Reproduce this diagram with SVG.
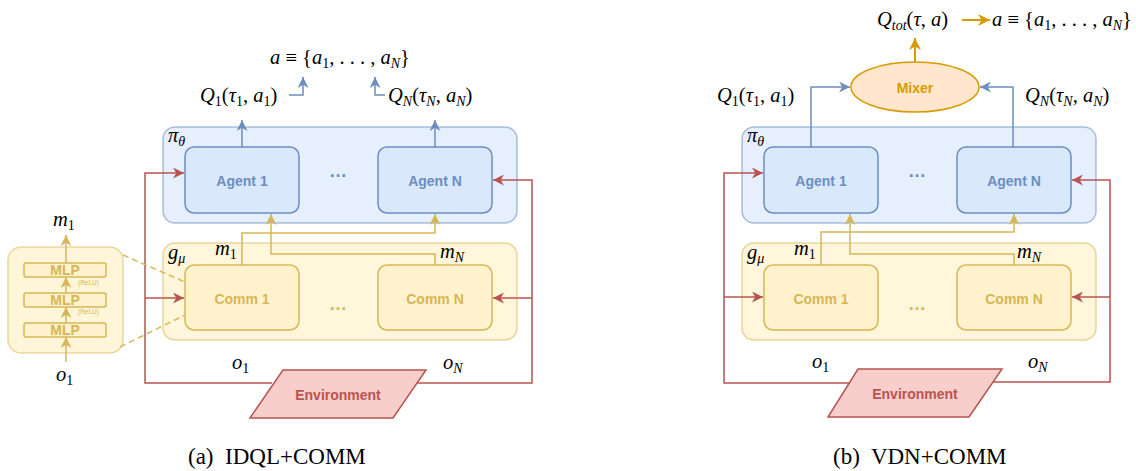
<svg xmlns="http://www.w3.org/2000/svg" width="1136" height="471" viewBox="0 0 1136 471">
  <style>
    .math { font-family: "Liberation Serif", "DejaVu Serif", serif; font-size: 20.5px; fill: #000; }
    .it { font-style: italic; }
    .sub { font-size: 14px; }
    .cap { font-family: "Liberation Serif", serif; font-size: 23px; fill: #000; }
    .lbl { font-family: "Liberation Sans", Arial, sans-serif; font-weight: bold; font-size: 14px; text-anchor: middle; dominant-baseline: central; }
    .dots { font-family: "Liberation Sans", Arial, sans-serif; font-weight: bold; font-size: 18px; text-anchor: middle; }
    .pi-box { fill: #dae8fc; fill-opacity: 0.7; stroke: #6c8ebf; stroke-opacity: 0.55; stroke-width: 1.5; }
    .agent { fill: #dae8fc; stroke: #6c8ebf; stroke-width: 1.5; }
    .g-box { fill: #fff2cc; fill-opacity: 0.7; stroke: #d6b656; stroke-opacity: 0.55; stroke-width: 1.5; }
    .comm { fill: #fff2cc; stroke: #d6b656; stroke-width: 1.5; }
    .env { fill: #f8cecc; stroke: #b85450; stroke-width: 1.5; }
    .mixer { fill: #ffe6cc; stroke: #d79b00; stroke-width: 1.5; }
    .blue-t { fill: #6c8ebf; }
    .gold-t { fill: #d6b656; }
    .red-t { fill: #b85450; }
    .orange-t { fill: #d79b00; }
    .e-blue { fill: none; stroke: #6c8ebf; stroke-width: 1.5; marker-end: url(#ah-blue); }
    .e-gold { fill: none; stroke: #d6b656; stroke-width: 1.5; marker-end: url(#ah-gold); }
    .e-red { fill: none; stroke: #b85450; stroke-width: 1.5; }
    .e-red-a { fill: none; stroke: #b85450; stroke-width: 1.5; marker-end: url(#ah-red); }
    .e-orange { fill: none; stroke: #d79b00; stroke-width: 2; marker-end: url(#ah-orange); }
    .dash { fill: none; stroke: #d6b656; stroke-width: 1.5; stroke-dasharray: 6 4; }
  </style>
  <defs>
    <marker id="ah-blue" viewBox="0 0 10 10" refX="10" refY="5" markerWidth="11" markerHeight="11" markerUnits="userSpaceOnUse" orient="auto">
      <path d="M0,0 L10,5 L0,10 L3,5 z" fill="#6c8ebf"/>
    </marker>
    <marker id="ah-gold" viewBox="0 0 10 10" refX="10" refY="5" markerWidth="11" markerHeight="11" markerUnits="userSpaceOnUse" orient="auto">
      <path d="M0,0 L10,5 L0,10 L3,5 z" fill="#d6b656"/>
    </marker>
    <marker id="ah-red" viewBox="0 0 10 10" refX="10" refY="5" markerWidth="11" markerHeight="11" markerUnits="userSpaceOnUse" orient="auto">
      <path d="M0,0 L10,5 L0,10 L3,5 z" fill="#b85450"/>
    </marker>
    <marker id="ah-orange" viewBox="0 0 10 10" refX="10" refY="5" markerWidth="12" markerHeight="12" markerUnits="userSpaceOnUse" orient="auto">
      <path d="M0,0 L10,5 L0,10 L3,5 z" fill="#d79b00"/>
    </marker>
  </defs>

  <!-- ===================== (a) IDQL+COMM ===================== -->
  <g id="a-mlp-stack">
    <rect x="8" y="247" width="115" height="106" rx="13" fill="#fff2cc" fill-opacity="0.75" stroke="#d6b656" stroke-opacity="0.5" stroke-width="1.5"/>
    <rect x="24" y="263" width="82" height="14" rx="2" class="comm"/>
    <rect x="24" y="293" width="82" height="14" rx="2" class="comm"/>
    <rect x="24" y="323" width="82" height="14" rx="2" class="comm"/>
    <text x="65" y="270" class="lbl gold-t" font-size="15">MLP</text>
    <text x="65" y="300" class="lbl gold-t" font-size="15">MLP</text>
    <text x="65" y="330" class="lbl gold-t" font-size="15">MLP</text>
    <text x="78" y="285" font-family="Liberation Sans, Arial, sans-serif" font-size="6.5" class="gold-t">(ReLU)</text>
    <text x="78" y="314" font-family="Liberation Sans, Arial, sans-serif" font-size="6.5" class="gold-t">(ReLU)</text>
    <path class="e-gold" d="M66,362 V337"/>
    <path class="e-gold" d="M66,323 V307"/>
    <path class="e-gold" d="M66,293 V277"/>
    <path class="e-gold" d="M66,263 V235"/>
    <text class="math it" x="53" y="226">m<tspan class="sub" font-style="normal" dy="4">1</tspan></text>
    <text class="math it" x="56" y="381">o<tspan class="sub" font-style="normal" dy="4">1</tspan></text>
  </g>

  <g id="a-policy">
    <rect x="163" y="127" width="354" height="96" rx="12" class="pi-box"/>
    <text class="math it" x="168" y="142" font-size="17">π<tspan class="sub" dy="4" font-size="12">θ</tspan></text>
    <text x="338" y="177" class="dots blue-t">…</text>
  </g>
  <g id="a-agent-1">
    <rect x="185" y="147" width="114" height="66" rx="9" class="agent"/>
    <text x="242" y="181" class="lbl blue-t">Agent 1</text>
  </g>
  <g id="a-agent-n">
    <rect x="378" y="147" width="114" height="66" rx="9" class="agent"/>
    <text x="435" y="181" class="lbl blue-t">Agent N</text>
  </g>

  <g id="a-comm-layer">
    <rect x="163" y="243" width="354" height="97" rx="12" class="g-box"/>
    <text class="math it" x="168" y="259" font-size="17">g<tspan class="sub" dy="4" font-size="12">μ</tspan></text>
    <text x="338" y="310" class="dots gold-t">…</text>
  </g>
  <g id="a-comm-1">
    <rect x="185" y="265" width="114" height="65" rx="9" class="comm"/>
    <text x="242" y="299" class="lbl gold-t">Comm 1</text>
  </g>
  <g id="a-comm-n">
    <rect x="378" y="265" width="114" height="65" rx="9" class="comm"/>
    <text x="435" y="299" class="lbl gold-t">Comm N</text>
  </g>

  <g id="a-environment">
    <polygon points="283,370 426,370 393,418 250,418" class="env"/>
    <text x="338" y="395" class="lbl red-t" font-size="14.5">Environment</text>
  </g>

  <g id="a-labels">
    <text class="math" x="270" y="64"><tspan class="it">a</tspan> ≡ {<tspan class="it">a</tspan><tspan class="sub" dy="4">1</tspan><tspan dy="-4">, . . . , </tspan><tspan class="it">a</tspan><tspan class="sub it" dy="4">N</tspan><tspan dy="-4">}</tspan></text>
    <text class="math" x="200" y="102"><tspan class="it">Q</tspan><tspan class="sub" dy="4">1</tspan><tspan dy="-4">(</tspan><tspan class="it">τ</tspan><tspan class="sub" dy="4">1</tspan><tspan dy="-4">, </tspan><tspan class="it">a</tspan><tspan class="sub" dy="4">1</tspan><tspan dy="-4">)</tspan></text>
    <text class="math" x="388" y="102"><tspan class="it">Q</tspan><tspan class="sub it" dy="4">N</tspan><tspan dy="-4">(</tspan><tspan class="it">τ</tspan><tspan class="sub it" dy="4">N</tspan><tspan dy="-4">, </tspan><tspan class="it">a</tspan><tspan class="sub it" dy="4">N</tspan><tspan dy="-4">)</tspan></text>
    <text class="math it" x="215" y="255">m<tspan class="sub" font-style="normal" dy="4">1</tspan></text>
    <text class="math it" x="440" y="258">m<tspan class="sub" dy="4">N</tspan></text>
    <text class="math it" x="232" y="369">o<tspan class="sub" font-style="normal" dy="4">1</tspan></text>
    <text class="math it" x="443" y="369">o<tspan class="sub" dy="4">N</tspan></text>
  </g>

  <g id="a-connectors">
    <path class="e-blue" d="M242,147 V120"/>
    <path class="e-blue" d="M435,147 V120"/>
    <path class="e-blue" d="M289,95 H303 V77"/>
    <path class="e-blue" d="M385,95 H375 V77"/>
    <path class="e-gold" d="M242,265 V233 H435 V214"/>
    <path class="e-gold" d="M435,265 V254 H271 V214"/>
    <path class="e-red" d="M272,383 H145 V298"/>
    <path class="e-red-a" d="M145,298 V173 H184"/>
    <path class="e-red-a" d="M145,298 H184"/>
    <path class="e-red" d="M417,383 H532 V298"/>
    <path class="e-red-a" d="M532,298 V180 H493"/>
    <path class="e-red-a" d="M532,298 H493"/>
    <path class="dash" d="M123,255 L185,282"/>
    <path class="dash" d="M120,347 L185,315"/>
  </g>

  <text class="cap" x="188" y="464" xml:space="preserve">(a)  IDQL+COMM</text>

  <!-- ===================== (b) VDN+COMM ===================== -->
  <g id="b-mixer">
    <ellipse cx="915" cy="87" rx="64" ry="25" class="mixer"/>
    <text x="915" y="88" class="lbl orange-t" font-size="14.5">Mixer</text>
  </g>

  <g id="b-policy">
    <rect x="742" y="127" width="354" height="96" rx="12" class="pi-box"/>
    <text class="math it" x="747" y="142" font-size="17">π<tspan class="sub" dy="4" font-size="12">θ</tspan></text>
    <text x="917" y="177" class="dots blue-t">…</text>
  </g>
  <g id="b-agent-1">
    <rect x="764" y="147" width="114" height="66" rx="9" class="agent"/>
    <text x="821" y="181" class="lbl blue-t">Agent 1</text>
  </g>
  <g id="b-agent-n">
    <rect x="957" y="147" width="114" height="66" rx="9" class="agent"/>
    <text x="1014" y="181" class="lbl blue-t">Agent N</text>
  </g>

  <g id="b-comm-layer">
    <rect x="742" y="243" width="354" height="97" rx="12" class="g-box"/>
    <text class="math it" x="747" y="259" font-size="17">g<tspan class="sub" dy="4" font-size="12">μ</tspan></text>
    <text x="917" y="310" class="dots gold-t">…</text>
  </g>
  <g id="b-comm-1">
    <rect x="764" y="265" width="114" height="65" rx="9" class="comm"/>
    <text x="821" y="299" class="lbl gold-t">Comm 1</text>
  </g>
  <g id="b-comm-n">
    <rect x="957" y="265" width="114" height="65" rx="9" class="comm"/>
    <text x="1014" y="299" class="lbl gold-t">Comm N</text>
  </g>

  <g id="b-environment">
    <polygon points="858,369 1002,369 969,417 828,417" class="env"/>
    <text x="915" y="394" class="lbl red-t" font-size="14.5">Environment</text>
  </g>

  <g id="b-labels">
    <text class="math" x="877" y="26"><tspan class="it">Q</tspan><tspan class="sub it" dy="4">tot</tspan><tspan dy="-4">(</tspan><tspan class="it">τ</tspan>, <tspan class="it">a</tspan>)</text>
    <text class="math" x="992" y="26"><tspan class="it">a</tspan> ≡ {<tspan class="it">a</tspan><tspan class="sub" dy="4">1</tspan><tspan dy="-4">, . . . , </tspan><tspan class="it">a</tspan><tspan class="sub it" dy="4">N</tspan><tspan dy="-4">}</tspan></text>
    <text class="math" x="717" y="102"><tspan class="it">Q</tspan><tspan class="sub" dy="4">1</tspan><tspan dy="-4">(</tspan><tspan class="it">τ</tspan><tspan class="sub" dy="4">1</tspan><tspan dy="-4">, </tspan><tspan class="it">a</tspan><tspan class="sub" dy="4">1</tspan><tspan dy="-4">)</tspan></text>
    <text class="math" x="1025" y="102"><tspan class="it">Q</tspan><tspan class="sub it" dy="4">N</tspan><tspan dy="-4">(</tspan><tspan class="it">τ</tspan><tspan class="sub it" dy="4">N</tspan><tspan dy="-4">, </tspan><tspan class="it">a</tspan><tspan class="sub it" dy="4">N</tspan><tspan dy="-4">)</tspan></text>
    <text class="math it" x="794" y="255">m<tspan class="sub" font-style="normal" dy="4">1</tspan></text>
    <text class="math it" x="1017" y="258">m<tspan class="sub" dy="4">N</tspan></text>
    <text class="math it" x="812" y="368">o<tspan class="sub" font-style="normal" dy="4">1</tspan></text>
    <text class="math it" x="1028" y="368">o<tspan class="sub" dy="4">N</tspan></text>
  </g>

  <g id="b-connectors">
    <path class="e-blue" d="M811,147 V87 H850"/>
    <path class="e-blue" d="M1013,147 V87 H980"/>
    <path class="e-orange" d="M915,62 V38"/>
    <path class="e-orange" d="M962,20 H990"/>
    <path class="e-gold" d="M821,265 V232 H1014 V214"/>
    <path class="e-gold" d="M1014,265 V254 H850 V214"/>
    <path class="e-red" d="M850,383 H724 V297"/>
    <path class="e-red-a" d="M724,297 V173 H763"/>
    <path class="e-red-a" d="M724,297 H763"/>
    <path class="e-red" d="M993,382 H1110 V297"/>
    <path class="e-red-a" d="M1110,297 V180 H1072"/>
    <path class="e-red-a" d="M1110,297 H1072"/>
  </g>

  <text class="cap" x="833" y="464" xml:space="preserve">(b)  VDN+COMM</text>
</svg>
